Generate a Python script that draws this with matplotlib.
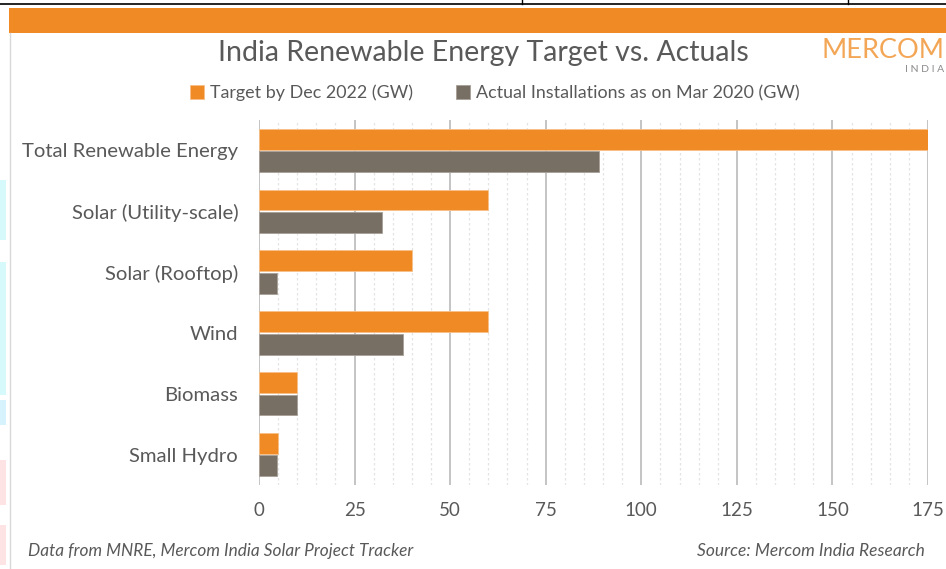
import matplotlib
matplotlib.use("Agg")
import matplotlib.pyplot as plt
from matplotlib.patches import Rectangle
from matplotlib.lines import Line2D
import numpy as np

categories = ["Total Renewable Energy", "Solar (Utility-scale)", "Solar (Rooftop)",
              "Wind", "Biomass", "Small Hydro"]
target_2022 = [175, 60, 40, 60, 10, 5]
actual_2020 = [89, 32.3, 4.7, 37.6, 10, 4.7]
x_ticks = [0, 25, 50, 75, 100, 125, 150, 175]
series_names = ["Target by Dec 2022 (GW)", "Actual Installations as on Mar 2020 (GW)"]

ORANGE = "#F08A24"
GRAY = "#776E64"
TEXT = "#595959"
FONT = ["Lato", "DejaVu Sans"]

W, H = 946, 569
fig = plt.figure(figsize=(W / 100, H / 100), dpi=100)
fig.patch.set_facecolor("white")

def fx(px):
    return px / W

def fy(py):
    return 1 - py / H

# frame decorations
fig.add_artist(Line2D([0, 1], [fy(3.5), fy(3.5)], color="black", lw=1.2))
fig.add_artist(Line2D([fx(522), fx(522)], [fy(0), fy(3.5)], color="black", lw=1))
fig.add_artist(Line2D([fx(848), fx(848)], [fy(0), fy(3.5)], color="black", lw=1))
fig.add_artist(Rectangle((fx(9), fy(33)), fx(946 - 9), 25 / H, color=ORANGE, lw=0))
fig.add_artist(Line2D([fx(10), fx(10)], [fy(33), 0], color="#D9D9D9", lw=1))
for y0, y1, c in [(180, 240, "#D6FAFC"), (262, 395, "#D6FAFC"), (400, 425, "#D6F2FC"),
                  (460, 505, "#FDE3E3"), (525, 565, "#FDE3E3")]:
    fig.add_artist(Rectangle((0, fy(y1)), fx(6), (y1 - y0) / H, color=c, lw=0))

ax = fig.add_axes([fx(259), fy(485), fx(928 - 259), (485 - 120) / H])
y = np.arange(len(categories))
h = 0.34
off = 0.185
b1 = ax.barh(y - off, target_2022, height=h, color=ORANGE, edgecolor="#F7C08A", lw=0.6,
             label=series_names[0], zorder=3)
b2 = ax.barh(y + off, actual_2020, height=h, color=GRAY, edgecolor="#A8A098", lw=0.6,
             label=series_names[1], zorder=3)
ax.set_xlim(0, 175)
ax.set_ylim(len(categories) - 0.5, -0.5)
ax.set_xticks(x_ticks)
ax.set_xticks(np.arange(0, 176, 5), minor=True)
ax.grid(axis="x", which="major", color="#BFBFBF", lw=1.3, zorder=0)
ax.grid(axis="x", which="minor", color="#E4E4E4", lw=0.9, ls=(0, (2, 2)), zorder=0)
ax.set_axisbelow(True)
for s in ax.spines.values():
    s.set_visible(False)
ax.tick_params(axis="both", which="both", length=0)
ax.tick_params(axis="x", pad=12)
ax.set_yticks(y)
ax.set_yticklabels(categories)
for lab in ax.get_yticklabels():
    lab.set_fontfamily(FONT)
    lab.set_fontsize(14.6)
    lab.set_color(TEXT)
ax.tick_params(axis="y", pad=15)
for lab in ax.get_xticklabels():
    lab.set_fontfamily(FONT)
    lab.set_fontsize(13.5)
    lab.set_color(TEXT)

fig.text(fx(483), fy(53), "India Renewable Energy Target vs. Actuals", ha="center", va="center",
         fontsize=20.5, color=TEXT, family=FONT)

leg = fig.legend(handles=[b1, b2], loc="center", bbox_to_anchor=(fx(495), fy(93)), ncol=2,
                 frameon=False, handlelength=0.75, handleheight=0.75, handletextpad=0.35,
                 columnspacing=2.4, prop={"family": FONT, "size": 12.9})
for t in leg.get_texts():
    t.set_color(TEXT)

fig.text(fx(28), fy(551), "Data from MNRE, Mercom India Solar Project Tracker", ha="left",
         va="center", fontsize=12.4, color=TEXT, style="italic", family=FONT)
fig.text(fx(925), fy(551), "Source: Mercom India Research", ha="right",
         va="center", fontsize=12.5, color=TEXT, style="italic", family=FONT)

# logo
fig.text(fx(944), fy(50), "MERCOM", ha="right", va="center", fontsize=19.5, color="#F3A656",
         family=FONT)
fig.text(fx(944), fy(70), "I N D I A", ha="right", va="center", fontsize=7.5, color="#8A8A8A",
         family=FONT)

fig.savefig("out.png", dpi=100)
